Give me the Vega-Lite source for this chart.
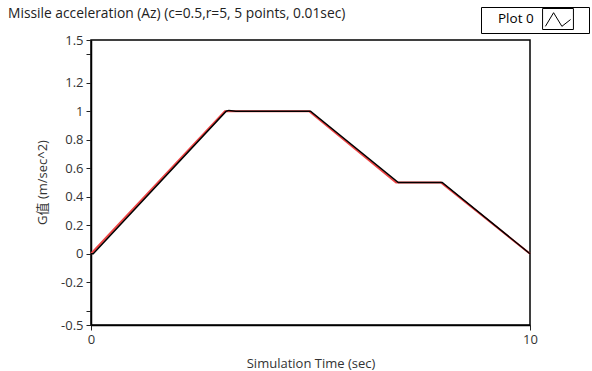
{
  "$schema": "https://vega.github.io/schema/vega-lite/v6.json",
  "width": 439,
  "height": 285,
  "autosize": {"type": "none"},
  "padding": {"left": 91, "top": 40, "right": 62, "bottom": 46},
  "background": "white",
  "title": {
    "text": "Missile acceleration (Az) (c=0.5,r=5, 5 points, 0.01sec)",
    "anchor": "start",
    "frame": "group",
    "dx": -83,
    "offset": 0,
    "dy": 14,
    "font": "Open Sans",
    "fontSize": 13.8,
    "fontWeight": "normal",
    "color": "#222222"
  },
  "config": {
    "view": {"stroke": "#000000", "strokeWidth": 1.5},
    "font": "Open Sans, Noto Sans CJK TC",
    "axis": {
      "grid": false,
      "domainColor": "#000000",
      "domainWidth": 1.5,
      "tickColor": "#222222",
      "tickSize": 5,
      "labelFont": "Open Sans",
      "labelFontSize": 13,
      "labelColor": "#333333",
      "titleFont": "Open Sans, Noto Sans CJK TC",
      "titleFontSize": 13,
      "titleFontWeight": "normal",
      "titleColor": "#333333"
    }
  },
  "data": {
    "values": [
      {"t": 0.0, "g": 0.0, "series": "Plot 1"},
      {"t": 3.05, "g": 1.0, "series": "Plot 1"},
      {"t": 4.97, "g": 1.0, "series": "Plot 1"},
      {"t": 6.95, "g": 0.5, "series": "Plot 1"},
      {"t": 7.97, "g": 0.5, "series": "Plot 1"},
      {"t": 10.0, "g": 0.0, "series": "Plot 1"},
      {"t": 0.0, "g": 0.0, "series": "Plot 0"},
      {"t": 0.05, "g": 0.0, "series": "Plot 0"},
      {"t": 3.08, "g": 1.0, "series": "Plot 0"},
      {"t": 3.14, "g": 1.006, "series": "Plot 0"},
      {"t": 3.3, "g": 1.0, "series": "Plot 0"},
      {"t": 5.0, "g": 1.0, "series": "Plot 0"},
      {"t": 7.0, "g": 0.5, "series": "Plot 0"},
      {"t": 8.0, "g": 0.5, "series": "Plot 0"},
      {"t": 10.0, "g": 0.0, "series": "Plot 0"}
    ]
  },
  "encoding": {
    "x": {
      "field": "t",
      "type": "quantitative",
      "scale": {"domain": [0, 10], "nice": false},
      "axis": {
        "title": "Simulation Time (sec)",
        "values": [0, 10],
        "labelFlush": false,
        "labelPadding": 3,
        "titlePadding": 11
      }
    },
    "y": {
      "field": "g",
      "type": "quantitative",
      "scale": {"domain": [-0.5, 1.5], "nice": false, "zero": false},
      "axis": {
        "title": "G值  (m/sec^2)",
        "titleColor": "#333333",
        "values": [-0.5, -0.4, -0.2, 0, 0.2, 0.4, 0.6, 0.8, 1, 1.2, 1.4, 1.5],
        "labelExpr": "datum.value == 1.4 || datum.value == -0.4 ? '' : replace(format(datum.value, '~g'), '−', '-')",
        "labelFlush": false,
        "labelPadding": 3,
        "titleX": -42,
        "titleY": 142
      }
    },
    "color": {
      "field": "series",
      "type": "nominal",
      "scale": {"domain": ["Plot 0", "Plot 1"], "range": ["#000000", "#ee4444"]},
      "legend": {
        "values": ["Plot 0"],
        "title": null,
        "orient": "none",
        "legendX": 390,
        "legendY": -33,
        "strokeColor": "#000000",
        "padding": 1,
        "symbolType": "M-1.47,-1 L1.47,-1 L1.47,1 L-1.47,1 Z M-1.2,0.7 L-0.42,-0.6 L0.37,0.7 L1.2,0.05 M2.62,0",
        "symbolSize": 441,
        "symbolStrokeWidth": 1,
        "symbolFillColor": "transparent",
        "symbolStrokeColor": "#000000",
        "symbolOffset": 65,
        "labelOffset": -71,
        "labelFont": "Open Sans",
        "labelFontSize": 13.5,
        "labelColor": "#000000"
      }
    }
  },
  "layer": [
    {
      "transform": [{"filter": "datum.series == 'Plot 1'"}],
      "mark": {"type": "line", "strokeWidth": 2}
    },
    {
      "transform": [{"filter": "datum.series == 'Plot 0'"}],
      "mark": {"type": "line", "strokeWidth": 1.5}
    }
  ]
}
